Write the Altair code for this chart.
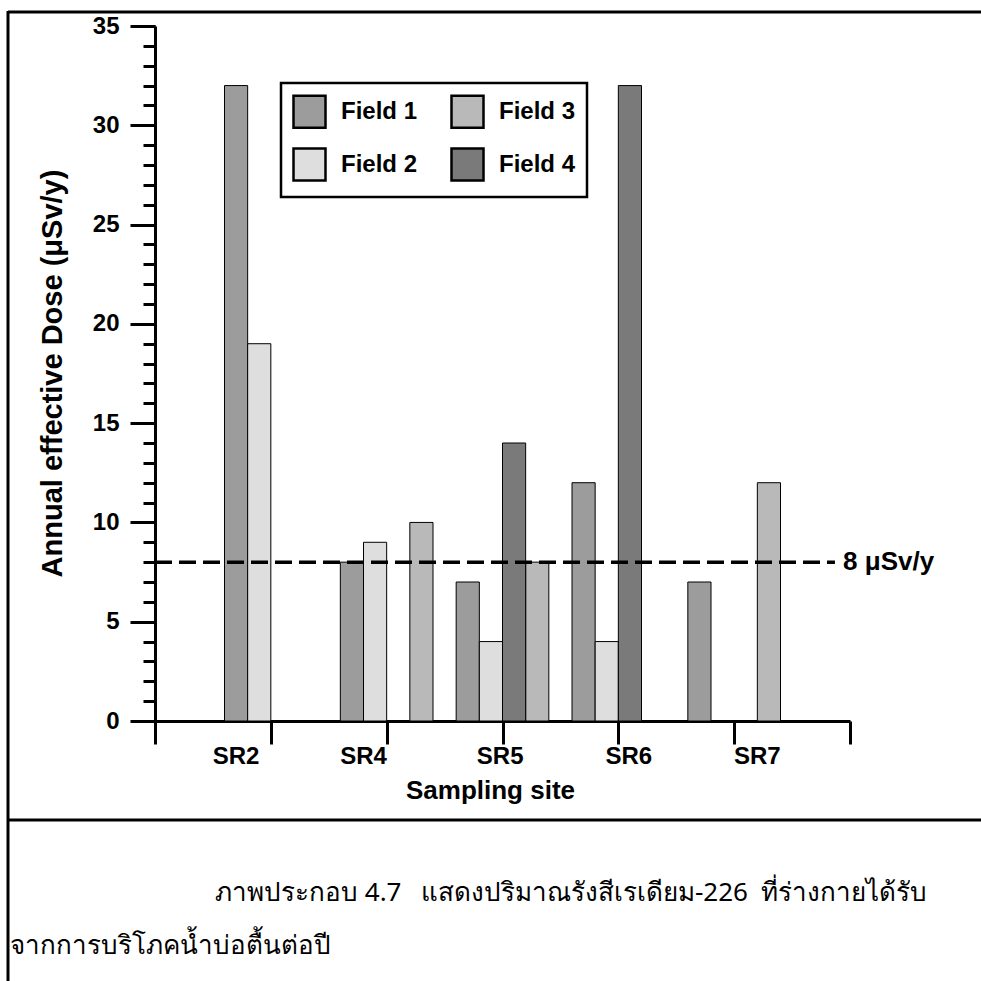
import altair as alt
import pandas as pd

# ---- data ----
sites = ["SR2", "SR4", "SR5", "SR6", "SR7"]
site_center = [1, 2, 3, 4, 5]
site_label_pos = [0.70, 1.80, 2.98, 4.09, 5.20]
field1 = [32, 8, 7, 12, 7]
field2 = [19, 9, 4, 4, None]
field3 = [None, 10, 8, None, 12]
field4 = [None, None, 14, 32, None]
field_offset = {"Field 1": -0.4, "Field 2": -0.2, "Field 4": 0.0, "Field 3": 0.2}
bar_width = 0.2
legend_order = ["Field 1", "Field 2", "Field 3", "Field 4"]
legend_colors = ["#9c9c9c", "#dedede", "#b9b9b9", "#7a7a7a"]
ref_value = [8]
ref_end = [5.87]
ref_label = ["8 \u03bcSv/y"]
ref_label_x = [5.94]
y_major = [0, 5, 10, 15, 20, 25, 30, 35]
y_minor = list(range(0, 36))
x_ticks = [0, 1, 2, 3, 4, 5, 6]
caption_1a = "ภาพประกอบ 4.7"
caption_1b = "แสดงปริมาณรังสีเรเดียม-226"
caption_1c = "ที่ร่างกายได้รับ"
caption_2 = "จากการบริโภคน้ำบ่อตื้นต่อปี"

rows = []
for name, vals in [("Field 1", field1), ("Field 2", field2), ("Field 3", field3), ("Field 4", field4)]:
    for s, c, v in zip(sites, site_center, vals):
        if v is None:
            continue
        x0 = c + field_offset[name]
        rows.append({"site": s, "field": name, "x": x0, "x2": x0 + bar_width, "value": v, "base": 0})
bars_df = pd.DataFrame(rows)

FONT = "Liberation Sans"
xs = alt.Scale(domain=[0, 6], nice=False, zero=False)
ys = alt.Scale(domain=[0, 35], nice=False, zero=False)

bars = alt.Chart(bars_df).mark_bar(stroke="black", strokeWidth=1, opacity=1).encode(
    x=alt.X("x:Q", scale=xs, axis=alt.Axis(
        values=x_ticks, labels=False, tickSize=23, tickWidth=3, tickColor="black",
        domainWidth=3, domainColor="black", grid=False,
        title="Sampling  site", titleFont=FONT, titleFontSize=26, titleFontWeight="bold",
        titleColor="black", titleX=335, titleY=69, titleBaseline="middle", titleAlign="center")),
    x2="x2:Q",
    y=alt.Y("value:Q", scale=ys, axis=alt.Axis(
        values=y_major, tickSize=25, tickWidth=3, tickColor="black",
        domainWidth=3, domainColor="black", grid=False,
        labelFont=FONT, labelFontSize=24, labelFontWeight="bold", labelColor="black",
        labelPadding=11,
        title="Annual effective Dose (\u03bcSv/y)", titleFont=FONT, titleFontSize=29,
        titleFontWeight="bold", titleColor="black", titleX=-103, titleY=347,
        titleAngle=-90, titleBaseline="middle", titleAlign="center")),
    y2="base:Q",
    color=alt.Color("field:N", scale=alt.Scale(domain=legend_order, range=legend_colors),
                    legend=alt.Legend(
                        title=None, orient="none", legendX=126, legendY=57, columns=2,
                        symbolType="square", symbolSize=1024, symbolStrokeColor="black",
                        symbolStrokeWidth=2.5, symbolOpacity=1,
                        labelFont=FONT, labelFontSize=24, labelFontWeight="bold",
                        labelColor="black", labelOffset=14, columnPadding=28, rowPadding=10,
                        padding=11, strokeColor="black")),
)

ref_df = pd.DataFrame({"y": ref_value, "x0": [0], "x1": ref_end})
ref_line = alt.Chart(ref_df).mark_rule(color="black", strokeWidth=3.5, strokeDash=[17, 7]).encode(
    x=alt.X("x0:Q", scale=xs, axis=None),
    x2="x1:Q",
    y=alt.Y("y:Q", scale=ys, axis=alt.Axis(
        values=y_minor, labels=False, tickSize=12, tickWidth=3, tickColor="black",
        domain=False, grid=False, title=None, orient="left")),
)

ref_text = alt.Chart(pd.DataFrame({"x": ref_label_x, "y": ref_value, "t": ref_label})).mark_text(
    align="left", baseline="middle", font=FONT, fontSize=26, fontWeight="bold", color="black"
).encode(x=alt.X("x:Q", scale=xs, axis=None), y=alt.Y("y:Q", scale=ys, axis=None), text="t:N")

site_text = alt.Chart(pd.DataFrame({"x": site_label_pos, "t": sites})).mark_text(
    align="center", baseline="middle", font=FONT, fontSize=24, fontWeight="bold", color="black"
).encode(x=alt.X("x:Q", scale=xs, axis=None), y=alt.value(731), text="t:N")

one = pd.DataFrame({"a": [0]})
frame_top = alt.Chart(one).mark_rule(color="black", strokeWidth=3).encode(
    x=alt.value(-147), x2=alt.value(830), y=alt.value(-14))
frame_left = alt.Chart(one).mark_rule(color="black", strokeWidth=3).encode(
    x=alt.value(-147), y=alt.value(-15), y2=alt.value(960))
frame_mid = alt.Chart(one).mark_rule(color="black", strokeWidth=3).encode(
    x=alt.value(-147), x2=alt.value(830), y=alt.value(794))


def cap(text, x, y, align="left"):
    return alt.Chart(one).mark_text(align=align, baseline="middle", font="Noto Sans",
                                    fontSize=26, color="black").encode(
        x=alt.value(x), y=alt.value(y), text=alt.value(text))


cap1a = cap(caption_1a, 60, 867)
cap1b = cap(caption_1b, 266, 867)
cap1c = cap(caption_1c, 606, 867)
cap2 = cap(caption_2, -145, 920)

chart = alt.layer(
    bars, ref_line, ref_text, site_text, frame_top, frame_left, frame_mid,
    cap1a, cap1b, cap1c, cap2
).resolve_axis(y="independent", x="independent").properties(
    width=695, height=695,
    padding={"left": 155, "top": 26, "right": 131, "bottom": 260},
    autosize=alt.AutoSizeParams(type="none"),
    background="white",
).configure_view(stroke=None).configure_legend(strokeWidth=2.5)

chart.save("out.html", embed_options={"renderer": "svg", "actions": False})
